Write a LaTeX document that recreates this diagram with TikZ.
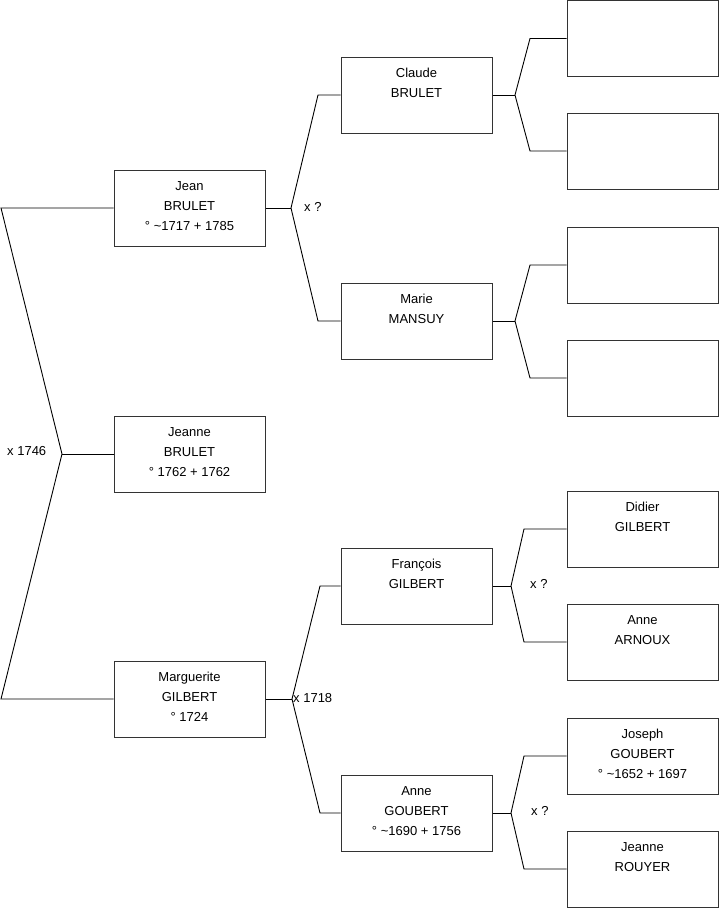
\documentclass[tikz,border=0pt]{standalone}
\usepackage{fontspec}
\setmainfont{Liberation Sans}
\begin{document}
\begin{tikzpicture}[x=1pt,y=-1pt,
  pbox/.style={draw=black!80,line width=1pt,minimum width=151pt,minimum height=76pt,inner sep=0pt},
  ptext/.style={font=\fontsize{13}{20}\selectfont,align=center,inner sep=0pt,anchor=north},
  conn/.style={draw=black,line width=0.9pt},
  lbl/.style={font=\fontsize{13}{14}\selectfont,inner sep=0pt,anchor=west}]
\useasboundingbox (0,0) rectangle (719,908);
% generation 1
\node[pbox] (jean) at (189.5,208) {};
\node[pbox] (jeanne) at (189.5,454) {};
\node[pbox] (marg) at (189.5,699) {};
% generation 2
\node[pbox] (claude) at (416.5,95) {};
\node[pbox] (marie) at (416.5,321) {};
\node[pbox] (franc) at (416.5,586) {};
\node[pbox] (anneg) at (416.5,813) {};
% generation 3
\node[pbox] (b1) at (642.5,38.5) {};
\node[pbox] (b2) at (642.5,151) {};
\node[pbox] (b3) at (642.5,265) {};
\node[pbox] (b4) at (642.5,378) {};
\node[pbox] (didier) at (642.5,529) {};
\node[pbox] (annea) at (642.5,642) {};
\node[pbox] (joseph) at (642.5,756) {};
\node[pbox] (rouyer) at (642.5,869) {};
% texts
\node[ptext] (tjean) at ([yshift=-11.5pt]jean.north) {Jean\\BRULET\\° \textasciitilde1717 + 1785};
\node[ptext] (tjeanne) at ([yshift=-11.5pt]jeanne.north) {Jeanne\\BRULET\\° 1762 + 1762};
\node[ptext] (tmarg) at ([yshift=-11.5pt]marg.north) {Marguerite\\GILBERT\\° 1724};
\node[ptext] (tclaude) at ([yshift=-11.5pt]claude.north) {Claude\\BRULET};
\node[ptext] (tmarie) at ([yshift=-11.5pt]marie.north) {Marie\\MANSUY};
\node[ptext] (tfranc) at ([yshift=-11.5pt]franc.north) {François\\GILBERT};
\node[ptext] (tanneg) at ([yshift=-11.5pt]anneg.north) {Anne\\GOUBERT\\° \textasciitilde1690 + 1756};
\node[ptext] (tdidier) at ([yshift=-11.5pt]didier.north) {Didier\\GILBERT};
\node[ptext] (tannea) at ([yshift=-11.5pt]annea.north) {Anne\\ARNOUX};
\node[ptext] (tjoseph) at ([yshift=-11.5pt]joseph.north) {Joseph\\GOUBERT\\° \textasciitilde1652 + 1697};
\node[ptext] (trouyer) at ([yshift=-11.5pt]rouyer.north) {Jeanne\\ROUYER};
% connector coordinates
\coordinate (l1) at (1,208);
\coordinate (v1) at (62,454);
\coordinate (l3) at (1,699);
\coordinate (vj) at (291,208);
\coordinate (ej1) at (318,95);
\coordinate (ej2) at (318,321);
\coordinate (vm) at (292,699);
\coordinate (em1) at (320,586);
\coordinate (em2) at (320,813);
\coordinate (vc) at (515,95);
\coordinate (ec1) at (530,38.5);
\coordinate (ec2) at (530,151);
\coordinate (vma) at (515,321);
\coordinate (ema1) at (530,265);
\coordinate (ema2) at (530,378);
\coordinate (vf) at (511,586);
\coordinate (ef1) at (524,529);
\coordinate (ef2) at (524,642);
\coordinate (va) at (511,813);
\coordinate (ea1) at (524,756);
\coordinate (ea2) at (524,869);
% connectors
\draw[conn] (jean.west) -- (l1) -- (v1) -- (l3) -- (marg.west);
\draw[conn] (v1) -- (jeanne.west);
\draw[conn] (jean.east) -- (vj);
\draw[conn] (claude.west) -- (ej1) -- (vj) -- (ej2) -- (marie.west);
\draw[conn] (marg.east) -- (vm);
\draw[conn] (franc.west) -- (em1) -- (vm) -- (em2) -- (anneg.west);
\draw[conn] (claude.east) -- (vc);
\draw[conn] (b1.west) -- (ec1) -- (vc) -- (ec2) -- (b2.west);
\draw[conn] (marie.east) -- (vma);
\draw[conn] (b3.west) -- (ema1) -- (vma) -- (ema2) -- (b4.west);
\draw[conn] (franc.east) -- (vf);
\draw[conn] (didier.west) -- (ef1) -- (vf) -- (ef2) -- (annea.west);
\draw[conn] (anneg.east) -- (va);
\draw[conn] (joseph.west) -- (ea1) -- (va) -- (ea2) -- (rouyer.west);
% marriage labels
\node[lbl] (m1) at (7,451) {x 1746};
\node[lbl] (m2) at (304,207) {x ?};
\node[lbl] (m3) at (293,698) {x 1718};
\node[lbl] (m4) at (530,584) {x ?};
\node[lbl] (m5) at (531,811) {x ?};
\end{tikzpicture}
\end{document}
